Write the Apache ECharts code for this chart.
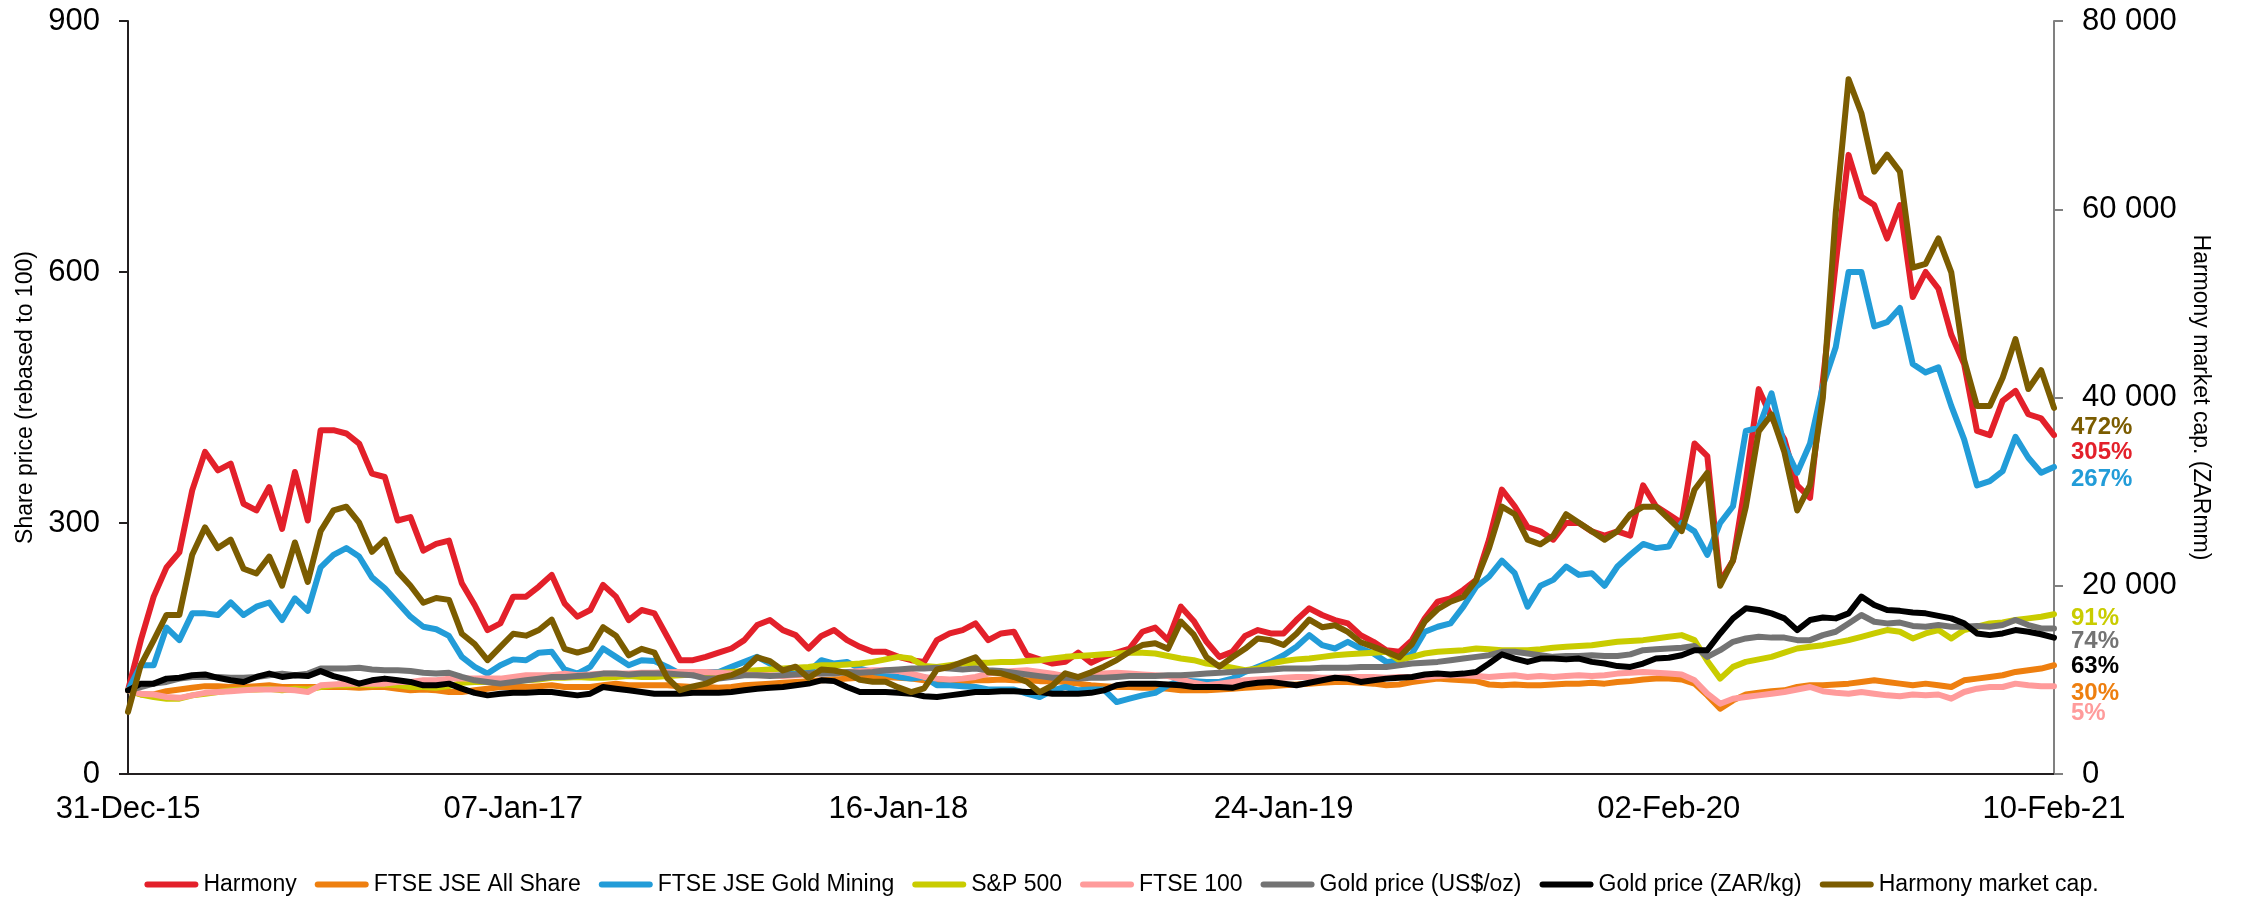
<!DOCTYPE html>
<html>
<head>
<meta charset="utf-8">
<script src="https://cdn.jsdelivr.net/npm/echarts@6/dist/echarts.min.js"></script>
<style>
  html, body { margin: 0; padding: 0; background: #fff; }
  #chart { width: 2243px; height: 897px; }
</style>
</head>
<body>
<div id="chart"></div>
<script>
// x axis: 151 evenly spaced points, a tick label every 30 points
var tickLabels = ['31-Dec-15', '07-Jan-17', '16-Jan-18', '24-Jan-19', '02-Feb-20', '10-Feb-21'];
var pointsPerTick = 30;

var seriesNames = ['Harmony', 'FTSE JSE All Share', 'FTSE JSE Gold Mining', 'S&P 500',
  'FTSE 100', 'Gold price (US$/oz)', 'Gold price (ZAR/kg)', 'Harmony market cap.'];
var endLabels = ['305%', '30%', '267%', '91%', '5%', '74%', '63%', '472%'];

// share prices rebased to 100
var harmony = [100,160,212,247,265,339,385,363,371,323,315,343,293,361,303,411,411,407,395,359,
  355,303,307,267,275,279,228,202,172,180,212,212,224,238,204,188,196,226,212,184,
  196,192,164,136,136,140,145,150,160,178,184,172,166,150,165,172,160,152,146,146,
  140,136,134,160,168,172,180,160,168,170,142,137,132,134,145,133,140,145,150,170,
  175,160,200,183,158,140,146,165,172,168,168,184,198,190,184,180,166,158,148,146,
  160,186,206,210,220,232,280,340,320,295,290,280,300,300,290,285,290,285,345,320,
  310,300,395,380,230,255,350,460,426,400,345,330,470,610,740,690,680,640,680,570,
  600,580,525,490,410,405,446,458,430,425,405];
var jseAllShare = [100,95,95,99,101,103,105,105,104,104,105,106,104,104,104,104,104,104,103,104,
  104,102,100,101,100,98,98,100,102,104,104,104,105,106,104,104,104,106,108,106,
  106,106,106,105,104,104,103,104,106,107,108,109,110,111,112,113,114,115,116,116,
  115,114,112,111,110,110,112,112,113,112,112,111,111,110,108,106,105,104,104,103,
  103,102,100,100,100,101,102,103,104,105,106,107,108,109,110,110,109,108,106,107,
  110,112,114,113,112,111,107,106,107,106,106,107,108,108,109,108,110,111,113,114,
  114,113,108,94,78,88,95,97,99,100,104,106,106,107,108,110,112,110,108,106,
  108,106,104,112,114,116,118,122,124,126,130];
var jseGoldMining = [100,130,130,175,160,192,192,190,205,190,200,205,184,210,195,247,262,270,260,235,
  222,205,188,176,173,165,140,128,120,130,137,136,145,146,125,120,128,150,140,130,
  136,135,128,120,118,122,122,128,134,140,132,124,124,122,136,132,134,126,122,120,
  116,114,116,106,106,105,104,101,101,101,96,92,100,104,100,101,101,86,90,94,
  97,106,112,111,110,110,114,122,128,134,142,152,166,154,150,158,150,144,134,135,
  144,170,176,180,200,224,236,255,240,200,225,232,248,238,240,225,248,262,275,270,
  272,300,290,262,300,320,410,414,455,392,360,395,464,510,600,600,535,540,557,490,
  480,486,440,400,345,350,362,403,378,360,367];
var sp500 = [100,95,92,90,90,94,96,98,100,101,101,102,100,102,101,104,106,106,107,106,
  107,106,104,104,103,105,109,110,110,111,111,112,113,115,115,116,115,115,116,117,
  116,116,117,118,119,120,121,122,123,124,125,126,127,128,130,130,131,132,134,137,
  140,138,129,128,130,132,133,133,134,134,135,136,138,140,141,142,143,144,145,145,
  144,141,138,136,132,130,127,124,126,132,135,137,138,140,142,143,144,145,146,136,
  140,144,146,147,148,150,149,148,148,148,149,151,152,153,154,156,158,159,160,162,
  164,166,160,135,114,128,134,137,140,145,150,152,154,157,160,164,168,172,170,162,
  168,172,162,172,176,180,181,184,186,188,191];
var ftse100 = [100,96,95,92,91,94,97,98,99,100,101,101,101,100,98,106,107,108,108,108,
  108,110,110,112,112,114,114,114,114,114,116,118,118,118,120,118,119,120,120,120,
  121,121,122,122,122,122,121,120,119,118,118,117,118,119,120,121,122,123,124,124,
  123,120,116,114,113,114,116,120,122,123,124,122,120,117,116,118,120,121,120,119,
  118,117,113,109,106,108,110,112,113,114,115,116,116,115,115,116,116,116,115,116,
  116,116,117,118,118,117,116,117,118,116,117,116,117,118,117,118,120,121,122,121,
  120,119,112,96,84,90,92,94,96,98,101,104,99,97,96,98,96,94,93,95,
  94,95,90,98,102,104,104,108,106,105,105];
var goldUsd = [100,104,108,110,114,116,116,116,115,115,116,118,120,118,120,126,126,126,127,125,
  124,124,123,121,120,121,116,112,110,108,110,112,114,116,116,117,118,120,120,119,
  120,120,120,119,118,114,114,116,118,118,117,118,119,120,120,120,122,121,122,124,
  125,126,126,127,126,125,126,124,123,121,119,117,115,115,114,115,115,116,117,117,
  117,118,118,119,120,121,122,123,124,125,126,126,126,127,127,127,128,128,128,130,
  132,133,134,136,138,140,142,146,146,144,142,140,141,141,142,141,141,143,148,149,
  150,151,153,140,148,158,162,164,163,163,160,160,166,170,180,190,182,180,181,177,
  176,178,176,176,177,176,178,184,178,174,174];
var goldZar = [100,108,108,114,115,118,119,115,112,110,116,120,116,118,117,123,117,113,108,112,
  114,112,110,106,106,108,102,97,94,96,97,97,98,98,96,94,96,104,102,100,
  98,96,96,96,97,97,97,98,100,102,103,104,106,108,112,111,104,98,98,98,
  97,96,93,92,94,96,98,98,99,99,98,98,96,96,96,97,100,106,108,108,
  108,107,106,104,104,104,103,107,109,110,108,106,109,112,115,114,110,112,114,115,
  116,119,120,119,120,122,132,143,138,134,138,138,137,138,134,132,129,128,132,138,
  139,142,148,148,168,186,198,196,192,186,172,184,187,186,192,212,202,196,195,193,
  192,189,186,180,168,166,168,172,170,167,163];
// Harmony market capitalisation, ZARmm (right axis)
var harmonyCap = [6600,11600,14200,16900,16900,23300,26200,24000,24900,21800,21300,23100,20000,24600,20400,
  25800,28000,28400,26700,23600,24900,21500,20000,18200,18700,18500,14900,13800,12100,13500,
  14900,14700,15300,16400,13300,12900,13300,15600,14700,12600,13300,12900,10200,8900,9300,
  9600,10200,10500,11100,12400,12000,11000,11400,10200,11100,11000,10700,10000,9800,9800,
  9200,8700,9100,11100,11400,11900,12400,10800,10700,10300,9800,8700,9400,10700,10300,
  10800,11400,12100,13000,13700,13900,13300,16200,14800,12400,11400,12400,13300,14400,14200,
  13700,14900,16400,15600,15800,15100,14000,13500,13000,12400,13800,16200,17500,
  18300,18800,20600,24000,28400,27600,24900,24400,25300,27600,26700,25800,24900,25800,27600,
  28400,28400,27100,25800,30200,32000,20000,22700,28400,36400,38200,34200,28000,30700,40000,
  59600,73800,70200,64000,65800,64000,53800,54200,56900,53300,44000,39100,39100,42100,46200,
  40900,42900,38900];

var colors = ['#E3202A', '#EE7F0F', '#229CD8', '#C9CC00', '#FF9B9B', '#737373', '#000000', '#7B5C00'];
var labelOffsets = [[17, 17], [17, 28], [17, 12], [17, 4], [17, 27], [17, 13], [17, 29], [17, 20]];

var font = "'Liberation Sans', Arial, sans-serif";

var categories = [];
var t0 = Date.UTC(2015, 11, 31), t1 = Date.UTC(2021, 1, 10);
var nPts = harmony.length;
var months = ['Jan','Feb','Mar','Apr','May','Jun','Jul','Aug','Sep','Oct','Nov','Dec'];
for (var i = 0; i < nPts; i++) {
  var d = new Date(t0 + (t1 - t0) * i / (nPts - 1));
  categories.push(('0' + d.getUTCDate()).slice(-2) + '-' + months[d.getUTCMonth()] + '-' + String(d.getUTCFullYear()).slice(-2));
}

var allData = [harmony, jseAllShare, jseGoldMining, sp500, ftse100, goldUsd, goldZar, harmonyCap];

var series = [];
for (var k = 0; k < allData.length; k++) {
  series.push({
    name: seriesNames[k],
    type: 'line',
    yAxisIndex: k === 7 ? 1 : 0,
    data: allData[k],
    symbol: 'none',
    color: colors[k],
    lineStyle: { width: 6, color: colors[k], cap: 'round', join: 'round' },
    endLabel: {
      show: true,
      formatter: endLabels[k],
      color: colors[k],
      fontFamily: font,
      fontWeight: 'bold',
      fontSize: 24,
      distance: 0,
      offset: labelOffsets[k]
    }
  });
}

var myChart = echarts.init(document.getElementById('chart'));

var option = {
  animation: false,
  backgroundColor: '#fff',
  textStyle: { fontFamily: font },
  grid: { left: 128, right: 189, top: 21, bottom: 123, containLabel: false },
  legend: {
    left: 'center',
    top: 868,
    icon: 'path://M3,0H51A3,3,0,0,1,51,6H3A3,3,0,0,1,3,0Z',
    itemWidth: 54,
    itemHeight: 7,
    itemGap: 18,
    textStyle: { fontSize: 23, color: '#000', fontFamily: font },
    data: seriesNames
  },
  xAxis: {
    type: 'category',
    data: categories,
    boundaryGap: false,
    axisLine: { lineStyle: { color: '#231F20', width: 2 } },
    axisTick: { show: false },
    axisLabel: {
      interval: pointsPerTick - 1,
      fontSize: 31,
      color: '#000',
      margin: 20,
      formatter: function (value, index) {
        return index % pointsPerTick === 0 ? tickLabels[index / pointsPerTick] : '';
      }
    },
    splitLine: { show: false }
  },
  yAxis: [
    {
      type: 'value',
      min: 0,
      max: 900,
      interval: 300,
      name: 'Share price (rebased to 100)',
      nameLocation: 'middle',
      nameGap: 90,
      nameTextStyle: { fontSize: 23, color: '#000' },
      axisLine: { show: true, lineStyle: { color: '#231F20', width: 2 } },
      axisTick: { show: true, length: 9, lineStyle: { color: '#231F20', width: 2 } },
      axisLabel: { fontSize: 31, color: '#000', margin: 28 },
      splitLine: { show: false }
    },
    {
      type: 'value',
      position: 'right',
      min: 0,
      max: 80000,
      interval: 20000,
      name: 'Harmony market cap. (ZARmm)',
      nameLocation: 'middle',
      nameRotate: -90,
      nameGap: 135,
      nameTextStyle: { fontSize: 23, color: '#000' },
      axisLine: { show: true, lineStyle: { color: '#808080', width: 2 } },
      axisTick: { show: true, length: 9, lineStyle: { color: '#808080', width: 2 } },
      axisLabel: {
        fontSize: 31,
        color: '#000',
        margin: 28,
        formatter: function (v) {
          return String(v).replace(/\B(?=(\d{3})+(?!\d))/g, ' ');
        }
      },
      splitLine: { show: false }
    }
  ],
  series: series
};

myChart.setOption(option);
</script>
</body>
</html>
